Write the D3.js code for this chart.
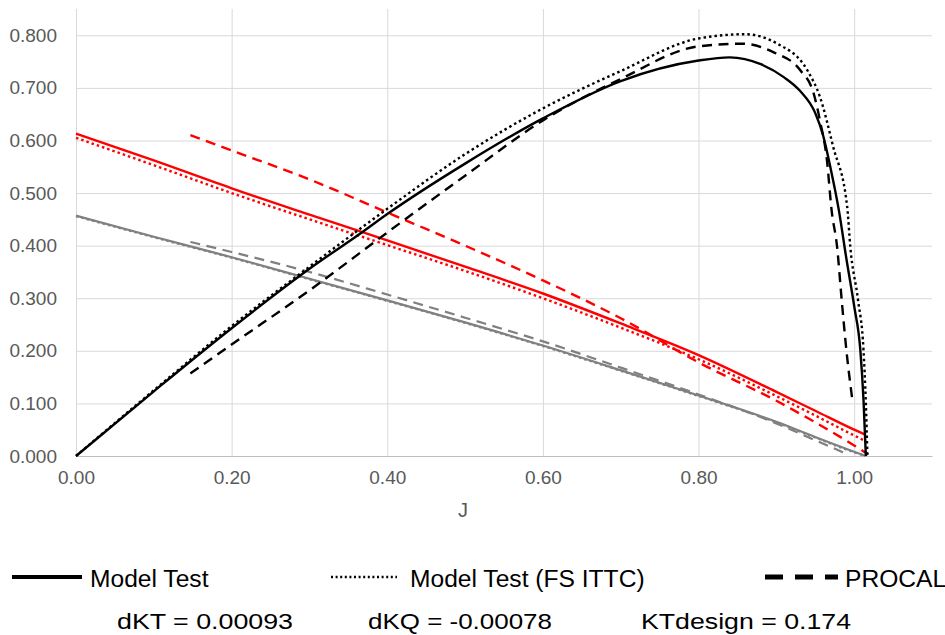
<!DOCTYPE html>
<html>
<head>
<meta charset="utf-8">
<script src="https://cdn.jsdelivr.net/npm/d3@7"></script>
<style>
  body { margin: 0; background: #fff; }
  svg { display: block; font-family: "Liberation Sans", Arial, sans-serif; }
</style>
</head>
<body>
<div id="chart"></div>
<script>
// Model Test (solid)
let mtJ = [0, 0.1, 0.2, 0.3, 0.37, 0.4, 0.5, 0.6, 0.7, 0.8, 0.84, 0.88, 0.91, 0.93, 0.95, 0.96, 0.97, 0.98, 0.99, 1.0, 1.008, 1.012, 1.015];
let mtEta = [0, 0.123, 0.243, 0.356, 0.428, 0.46, 0.556, 0.642, 0.713, 0.752, 0.758, 0.745, 0.72, 0.695, 0.652, 0.61, 0.545, 0.47, 0.375, 0.285, 0.2, 0.106, 0];
let mtKTJ = [0, 0.1, 0.2, 0.3, 0.4, 0.5, 0.6, 0.7, 0.8, 0.9, 0.95, 1.0, 1.015];
let mtKT = [0.457, 0.417, 0.378, 0.337, 0.296, 0.254, 0.21, 0.163, 0.115, 0.065, 0.036, 0.008, 0];
let mtKQ = [0.613, 0.562, 0.509, 0.459, 0.41, 0.36, 0.309, 0.252, 0.192, 0.122, 0.086, 0.05, 0.04];

// Model Test (FS ITTC) (dotted)
let fsJ = [0, 0.1, 0.2, 0.3, 0.4, 0.5, 0.6, 0.7, 0.8, 0.86, 0.9, 0.94, 0.956, 0.973, 0.991, 0.995, 1.005, 1.012, 1.015, 1.017];
let fsEta = [0, 0.125, 0.247, 0.36, 0.47, 0.574, 0.661, 0.732, 0.794, 0.802, 0.785, 0.733, 0.683, 0.588, 0.474, 0.398, 0.296, 0.201, 0.1, 0];
let fsKT = [0.456, 0.416, 0.377, 0.336, 0.295, 0.253, 0.209, 0.162, 0.114, 0.064, 0.035, 0.007, 0];
let fsKQ = [0.605, 0.553, 0.5, 0.45, 0.401, 0.352, 0.3, 0.244, 0.184, 0.114, 0.077, 0.039, 0.028];

// PROCAL (dashed)
let pcJ = [0.147, 0.2, 0.3, 0.4, 0.5, 0.6, 0.7, 0.8, 0.857, 0.896, 0.931, 0.948, 0.956, 0.965, 0.971, 0.978, 0.984, 0.99, 0.998];
let pcEta = [0.157, 0.212, 0.315, 0.425, 0.533, 0.638, 0.717, 0.779, 0.784, 0.768, 0.733, 0.689, 0.638, 0.562, 0.467, 0.398, 0.296, 0.201, 0.103];
let pcKQJ = [0.147, 0.2, 0.3, 0.4, 0.5, 0.6, 0.7, 0.8, 0.9, 0.95, 1.0, 1.018];
let pcKQ = [0.61, 0.581, 0.526, 0.463, 0.4, 0.334, 0.262, 0.178, 0.105, 0.064, 0.02, 0.003];
let pcKTJ = [0.147, 0.2, 0.3, 0.4, 0.5, 0.6, 0.7, 0.8, 0.9, 0.95, 0.992];
let pcKT = [0.407, 0.388, 0.35, 0.307, 0.263, 0.218, 0.168, 0.117, 0.062, 0.03, 0.003];

// ticks and texts
let xTicks = [0, 0.2, 0.4, 0.6, 0.8, 1.0];
let yTicks = [0, 0.1, 0.2, 0.3, 0.4, 0.5, 0.6, 0.7, 0.8];
let legendNames = ['Model Test', 'Model Test (FS ITTC)', 'PROCAL'];
let notes = ['dKT = 0.00093', 'dKQ = -0.00078', 'KTdesign = 0.174'];

function zip(xs, ys) {
  return ys.map((v, i) => ({j: xs[i], v: v}));
}

// set the dimensions and margins of the graph
let margin = {top: 9, right: 13, bottom: 179, left: 76};
let width = 945 - margin.left - margin.right;
let height = 635 - margin.top - margin.bottom;

let x = d3.scaleLinear().domain([0, 1.1]).range([0, width]);
let y = d3.scaleLinear().domain([0, 0.85]).range([height, 0]);

let svg = d3.select('#chart')
  .append('svg')
  .attr('width', 945)
  .attr('height', 635);

let g = svg.append('g')
  .attr('transform', 'translate(' + margin.left + ',' + margin.top + ')');

// gridlines
g.append('g')
  .call(d3.axisLeft(y).tickValues(yTicks.slice(1)).tickSize(-width).tickFormat(''))
  .call(a => a.select('.domain').remove())
  .selectAll('line').attr('stroke', '#d9d9d9');

g.append('g')
  .attr('transform', 'translate(0,' + height + ')')
  .call(d3.axisBottom(x).tickValues(xTicks).tickSize(-height).tickFormat(''))
  .call(a => a.select('.domain').remove())
  .selectAll('line').attr('stroke', '#d9d9d9');

// x axis
let xAxis = g.append('g')
  .attr('transform', 'translate(0,' + height + ')')
  .call(d3.axisBottom(x).tickValues(xTicks).tickSize(0).tickPadding(15).tickFormat(d3.format('.2f')));
xAxis.select('.domain').attr('stroke', '#bfbfbf');
xAxis.selectAll('text').attr('fill', '#595959').style('font-size', '19px');

// y axis
let yAxis = g.append('g')
  .call(d3.axisLeft(y).tickValues(yTicks).tickSize(0).tickPadding(19).tickFormat(d3.format('.3f')));
yAxis.select('.domain').remove();
yAxis.selectAll('text').attr('fill', '#595959').style('font-size', '19px');

// axis title
svg.append('text')
  .attr('x', 463)
  .attr('y', 517)
  .attr('text-anchor', 'middle')
  .attr('fill', '#595959')
  .style('font-size', '20px')
  .text('J');

// the curves
let line = d3.line()
  .x(d => x(d.j))
  .y(d => y(d.v))
  .curve(d3.curveMonotoneX);

let dotted = '2.5,3';
let dashed = '10,6.5';

let series = [
  {data: zip(mtKTJ, fsKT), color: '#808080', dash: dotted, w: 2.2},
  {data: zip(mtKTJ, mtKT), color: '#808080', dash: null, w: 2.2},
  {data: zip(pcKTJ, pcKT), color: '#808080', dash: dashed, w: 2.2},
  {data: zip(mtKTJ, fsKQ), color: '#ff0000', dash: dotted, w: 2.4},
  {data: zip(mtKTJ, mtKQ), color: '#ff0000', dash: null, w: 2.4},
  {data: zip(pcKQJ, pcKQ), color: '#ff0000', dash: dashed, w: 2.4},
  {data: zip(fsJ, fsEta), color: '#000000', dash: dotted, w: 2.4},
  {data: zip(mtJ, mtEta), color: '#000000', dash: null, w: 2.4},
  {data: zip(pcJ, pcEta), color: '#000000', dash: dashed, w: 2.4}
];

g.selectAll('.curve')
  .data(series)
  .enter().append('path')
  .attr('class', 'curve')
  .attr('d', d => line(d.data))
  .attr('fill', 'none')
  .attr('stroke', d => d.color)
  .attr('stroke-width', d => d.w)
  .attr('stroke-dasharray', d => d.dash);

// legend
let legend = [
  {x1: 12, x2: 82, tx: 90, dash: null, w: 4},
  {x1: 331, x2: 397, tx: 410, dash: '2,2.6', w: 2.5},
  {x1: 765, x2: 838, tx: 845, dash: '18,12', w: 5}
];

legend.forEach((d, i) => {
  svg.append('line')
    .attr('x1', d.x1).attr('x2', d.x2)
    .attr('y1', 577).attr('y2', 577)
    .attr('stroke', '#000')
    .attr('stroke-width', d.w)
    .attr('stroke-dasharray', d.dash);
  svg.append('text')
    .attr('x', d.tx)
    .attr('y', 587)
    .attr('fill', '#000')
    .style('font-size', '24.6px')
    .text(legendNames[i]);
});

// design values
let noteX = [117, 368, 641];
let noteW = [176, 184, 210];
notes.forEach((t, i) => {
  svg.append('text')
    .attr('x', noteX[i])
    .attr('y', 629)
    .attr('fill', '#000')
    .attr('textLength', noteW[i])
    .attr('lengthAdjust', 'spacingAndGlyphs')
    .style('font-size', '21.5px')
    .text(t);
});
</script>
</body>
</html>
